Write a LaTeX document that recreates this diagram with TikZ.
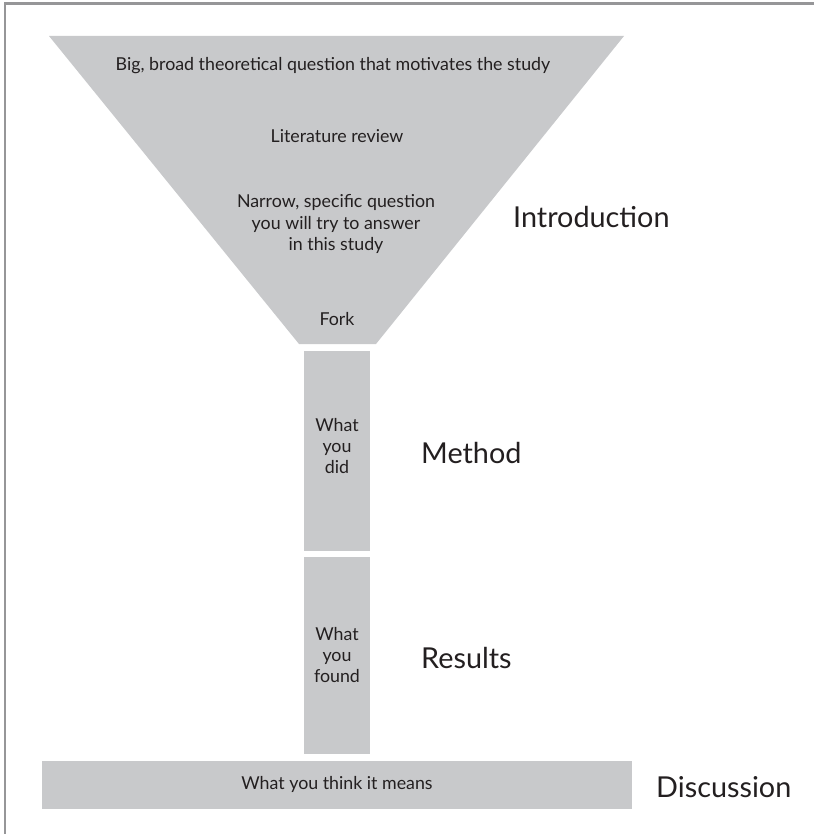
\documentclass[tikz,border=0pt]{standalone}
\usepackage{fontspec}
\setmainfont{Lato}
\definecolor{funnelgray}{RGB}{200,201,203}
\definecolor{ink}{RGB}{35,31,32}
\definecolor{framegray}{RGB}{150,150,152}
\begin{document}
\begin{tikzpicture}[x=1pt,y=-1pt,
  part/.style={fill=funnelgray,draw=none},
  small/.style={text=ink,font=\fontsize{17.8}{21.2}\selectfont,align=center,inner sep=0pt},
  big/.style={text=ink,font=\fontsize{28.8}{30}\selectfont,anchor=west,inner sep=0pt}]
\useasboundingbox (0,0) rectangle (814,834);
% frame
\draw[framegray,line width=2.5pt] (5,834) -- (5,3.5) -- (814,3.5);
% funnel
\fill[part] (49,36) -- (624,36) -- (376,344) -- (299,344) -- cycle;
\fill[part] (304,351) rectangle (370,551);
\fill[part] (304,557) rectangle (370,754);
\fill[part] (42,761) rectangle (632,809);
% texts
\node[small] (big) at (333,66) {Big, broad theoretical question that motivates the study};
\node[small] (lit) at (337,136) {Literature review};
\node[small] (narrow) at (336,224) {Narrow, specific question\\you will try to answer\\in this study};
\node[small] (fork) at (337,319) {Fork};
\node[small] (did) at (337,446) {What\\you\\did};
\node[small] (found) at (337,655) {What\\you\\found};
\node[small] (means) at (337,784) {What you think it means};
\node[big] (intro) at (513,217) {Introduction};
\node[big] (method) at (421,453) {Method};
\node[big] (results) at (421,658) {Results};
\node[big] (disc) at (656,787) {Discussion};
\end{tikzpicture}
\end{document}
